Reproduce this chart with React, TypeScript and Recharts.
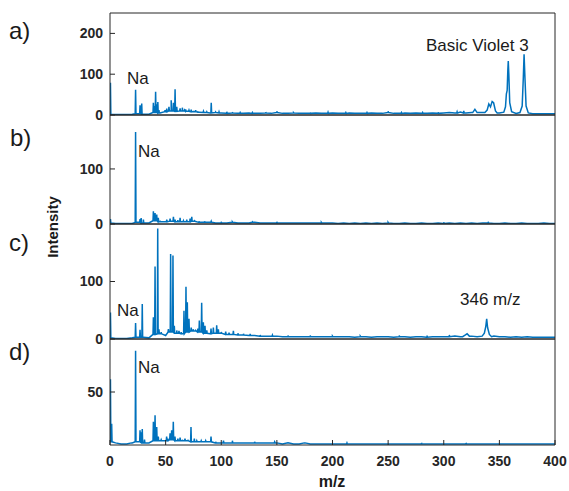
import { Line, LineChart, XAxis, YAxis } from "recharts";

const W = 569;
const H = 491;
const PLOT_LEFT = 110;
const PLOT_RIGHT = 555;
const BLUE = "#0072BD";
const AXIS = "#262626";

const xTicks = [0, 50, 100, 150, 200, 250, 300, 350, 400];

// baseline intensity every 5 m/z, from 0 to 400
const baseA = [
  2, 1, 1, 1, 2, 3, 2, 2, 6, 5,
  8, 10, 9, 10, 9, 8, 7, 6, 5, 6,
  5, 4, 5, 4, 4, 5, 4, 4, 5, 4,
  6, 4, 4, 5, 4, 4, 4, 5, 4, 4,
  5, 4, 4, 5, 4, 4, 4, 5, 4, 4,
  6, 4, 4, 5, 4, 5, 4, 4, 5, 4,
  5, 6, 5, 7, 5, 6, 5, 6, 10, 12,
  5, 8, 6, 4, 6, 4, 3, 3, 3, 3,
  3,
];
const baseB = [
  2, 1, 1, 1, 1, 3, 2, 2, 6, 4,
  4, 5, 4, 4, 4, 5, 3, 3, 3, 2,
  2, 2, 3, 2, 2, 2, 3, 2, 2, 2,
  2, 2, 2, 2, 2, 2, 2, 2, 2, 2,
  2, 1, 2, 1, 2, 1, 2, 1, 2, 1,
  2, 1, 1, 2, 1, 1, 2, 1, 1, 2,
  1, 2, 1, 2, 1, 2, 1, 2, 2, 1,
  1, 2, 1, 1, 2, 1, 1, 1, 2, 1,
  1,
];
const baseC = [
  2, 1, 1, 1, 2, 3, 3, 2, 8, 9,
  6, 12, 10, 9, 12, 14, 12, 10, 9, 10,
  10, 8, 8, 7, 7, 6, 6, 5, 5, 5,
  5, 4, 4, 4, 4, 4, 4, 4, 4, 4,
  4, 4, 4, 4, 3, 4, 4, 3, 4, 4,
  4, 3, 4, 4, 3, 4, 4, 3, 4, 4,
  4, 4, 5, 4, 7, 5, 4, 5, 12, 5,
  4, 4, 3, 4, 3, 4, 3, 3, 3, 3,
  3,
];
const baseD = [
  3, 2, 1, 1, 2, 3, 2, 2, 4, 4,
  4, 5, 4, 4, 4, 3, 3, 3, 3, 2,
  2, 2, 2, 2, 2, 2, 2, 2, 2, 2,
  2, 1, 2, 1, 1, 2, 1, 1, 1, 1,
  1, 1, 1, 1, 1, 1, 1, 1, 1, 1,
  1, 1, 1, 1, 1, 1, 1, 1, 1, 1,
  1, 1, 1, 1, 1, 1, 1, 1, 1, 1,
  1, 1, 1, 1, 1, 1, 1, 1, 1, 1,
  1,
];

// narrow peaks [m/z, intensity]
const peaksA: [number, number][] = [
  [0.4, 79], [23, 62], [27, 24], [28.5, 28], [39, 30], [40, 22], [41, 57], [42, 26],
  [43, 32], [44, 12], [49.5, 12], [51, 16], [53, 20], [55, 36], [57, 30], [58.5, 63],
  [60, 20], [63, 16], [65, 18], [67, 12], [68, 14], [71, 12], [73, 13], [75, 10],
  [77, 12], [79, 8], [84, 9], [87, 8], [91, 30], [95, 7], [98, 8], [105, 8],
  [110, 7], [117, 6], [128, 6], [140, 7], [150, 9], [165, 6], [180, 6], [196, 7],
  [212, 6], [231, 6], [250, 9], [262, 6], [281, 6], [295, 7], [312, 8], [318, 10],
];
const peaksB: [number, number][] = [
  [0.4, 9], [23, 167], [27, 9], [28, 11], [30, 8], [39, 23], [40.5, 20], [42, 17],
  [43.4, 11], [45, 6], [51, 8], [54, 10], [57, 13], [58.5, 8], [61, 7], [63, 11],
  [66, 6], [69, 8], [72, 10], [73.5, 13], [76, 6], [80, 5], [85, 5], [91, 5],
  [100, 4], [110, 4], [128, 4], [150, 4], [190, 3], [250, 3], [300, 3], [340, 4],
];
const peaksC: [number, number][] = [
  [0.4, 46], [23, 28], [27, 16], [29, 61], [39, 38], [40.5, 126], [42.9, 192], [44, 17],
  [46, 12], [52.5, 17], [54.5, 148], [56.6, 145], [57.8, 23], [60, 15], [62, 14], [64, 12],
  [66.5, 49], [68.3, 91], [69.5, 64], [71, 35], [73, 20], [74.9, 17], [77, 15], [79, 18],
  [80.3, 32], [82.4, 63], [83.9, 29], [85.4, 23], [87, 15], [90.8, 18], [92.9, 20], [95.9, 24],
  [97.4, 17], [100, 12], [104, 13], [107, 11], [110.9, 14], [115, 10], [120, 9], [126, 9],
  [135, 7], [146, 7], [160, 6], [180, 6], [200, 5], [225, 5], [260, 6], [285, 6], [305, 7],
];
const peaksD: [number, number][] = [
  [0.4, 62], [1.5, 20], [19.5, 2], [23, 89], [27, 14], [28, 12], [29, 15], [31, 5],
  [39, 22], [40.5, 28], [42, 17], [43.4, 8], [46, 5], [50.9, 8], [52, 6], [54, 11],
  [55.4, 14], [56.9, 22], [58.4, 8], [61, 6], [63, 7], [65, 5], [67.4, 6], [70, 5],
  [72.8, 17], [75.8, 6], [78, 4], [82, 4], [86, 4], [90.8, 8], [95, 3], [102, 4],
  [110, 4], [130, 3], [148, 3], [175, 2], [213, 2], [280, 2], [320, 2],
];

// broad peaks, traced point by point
const bumpsA: [number, number][][] = [
  [[326, 6], [328, 14], [330, 6]],
  [[337, 6], [339, 12], [340.5, 27], [342, 20], [343.5, 33], [344.8, 30], [346.5, 10], [348, 5]],
  [[354, 7], [355.5, 20], [356.3, 52], [357, 60], [357.6, 110], [358, 132], [358.5, 100], [359.3, 30], [361, 8]],
  [[368.5, 6], [370.5, 22], [371.5, 90], [372.2, 149], [373, 90], [374, 22], [376, 5]],
];
const bumpsC: [number, number][][] = [
  [[317, 4], [319.5, 7], [321, 9], [323, 5]],
  [[334.5, 5], [336.5, 10], [337.8, 22], [338.6, 35], [339.4, 20], [341, 8], [343, 4]],
];

type Pt = { mz: number; v: number };

function buildSpectrum(base: number[], peaks: [number, number][], bumps: [number, number][][]): Pt[] {
  const pts: Pt[] = [];
  base.forEach((v, i) => {
    const mz = i * 5;
    if (bumps.some((b) => mz >= b[0][0] && mz <= b[b.length - 1][0])) return;
    pts.push({ mz, v });
  });
  const floor = (mz: number) => base[Math.min(base.length - 1, Math.round(mz / 5))];
  peaks.forEach(([mz, v]) => {
    const f = floor(mz);
    pts.push({ mz: mz - 0.35, v: f });
    pts.push({ mz, v });
    pts.push({ mz: mz + 0.35, v: f });
  });
  bumps.forEach((b) => b.forEach(([mz, v]) => pts.push({ mz, v })));
  return pts.sort((a, b) => a.mz - b.mz);
}

const tickFont = {
  fill: AXIS,
  fontSize: 14,
  fontWeight: "bold",
  fontFamily: "'Liberation Sans', Arial, sans-serif",
};

type PanelProps = {
  data: Pt[];
  top: number;
  bottom: number;
  yMax: number;
  yTicks: number[];
  showX?: boolean;
};

// axes are 1px thick so recharts still draws them; margins compensate
const Panel = ({ data, top, bottom, yMax, yTicks, showX }: PanelProps) => (
  <div style={{ position: "absolute", left: 0, top: 0 }}>
    <LineChart
      width={W}
      height={H}
      data={data}
      margin={{ top: top - 1, right: W - PLOT_RIGHT - 1, bottom: H - bottom - 1, left: PLOT_LEFT - 1 }}
    >
      <XAxis
        xAxisId="b"
        type="number"
        dataKey="mz"
        domain={[0, 400]}
        ticks={xTicks}
        height={1}
        tickSize={-5}
        tickMargin={16}
        stroke={AXIS}
        tick={showX ? tickFont : false}
        allowDataOverflow
      />
      <XAxis
        xAxisId="t"
        orientation="top"
        type="number"
        dataKey="mz"
        domain={[0, 400]}
        ticks={xTicks}
        height={1}
        tickSize={-5}
        stroke={AXIS}
        tick={false}
        allowDataOverflow
      />
      <YAxis
        yAxisId="l"
        type="number"
        domain={[0, yMax]}
        ticks={yTicks}
        width={1}
        tickSize={-5}
        tickMargin={12}
        stroke={AXIS}
        tick={tickFont}
        allowDataOverflow
      />
      <YAxis
        yAxisId="r"
        orientation="right"
        type="number"
        domain={[0, yMax]}
        ticks={yTicks}
        width={1}
        tickSize={-5}
        stroke={AXIS}
        tick={false}
        allowDataOverflow
      />
      <Line
        xAxisId="b"
        yAxisId="l"
        type="linear"
        dataKey="v"
        stroke={BLUE}
        strokeWidth={1.5}
        dot={false}
        isAnimationActive={false}
      />
    </LineChart>
  </div>
);

const label = { fontFamily: "'Liberation Sans', Arial, sans-serif", fill: "#1a1a1a" };

export default function App() {
  return (
    <div style={{ position: "absolute", left: 0, top: 0, width: W, height: H, background: "#fff" }}>
      <Panel data={buildSpectrum(baseA, peaksA, bumpsA)} top={13} bottom={115} yMax={250} yTicks={[0, 100, 200]} />
      <Panel data={buildSpectrum(baseB, peaksB, [])} top={115} bottom={224} yMax={198} yTicks={[0, 100]} />
      <Panel data={buildSpectrum(baseC, peaksC, bumpsC)} top={224} bottom={339} yMax={200} yTicks={[0, 100]} />
      <Panel data={buildSpectrum(baseD, peaksD, [])} top={339} bottom={445} yMax={100} yTicks={[50]} showX />
      <svg width={W} height={H} style={{ position: "absolute", left: 0, top: 0, pointerEvents: "none" }}>
        <g style={label} fontSize={24}>
          <text x={9} y={39}>a)</text>
          <text x={10} y={146}>b)</text>
          <text x={9} y={251}>c)</text>
          <text x={9} y={360}>d)</text>
        </g>
        <g style={label} fontSize={17}>
          <text x={127} y={84}>Na</text>
          <text x={426} y={51}>Basic Violet 3</text>
          <text x={138} y={157}>Na</text>
          <text x={117} y={316}>Na</text>
          <text x={460} y={305}>346 m/z</text>
          <text x={138} y={373}>Na</text>
        </g>
        <text
          transform="translate(58,227) rotate(-90)"
          textAnchor="middle"
          fontSize={15}
          fontWeight="bold"
          style={label}
        >
          Intensity
        </text>
        <text x={332} y={487} textAnchor="middle" fontSize={16} fontWeight="bold" style={label}>
          m/z
        </text>
      </svg>
    </div>
  );
}
